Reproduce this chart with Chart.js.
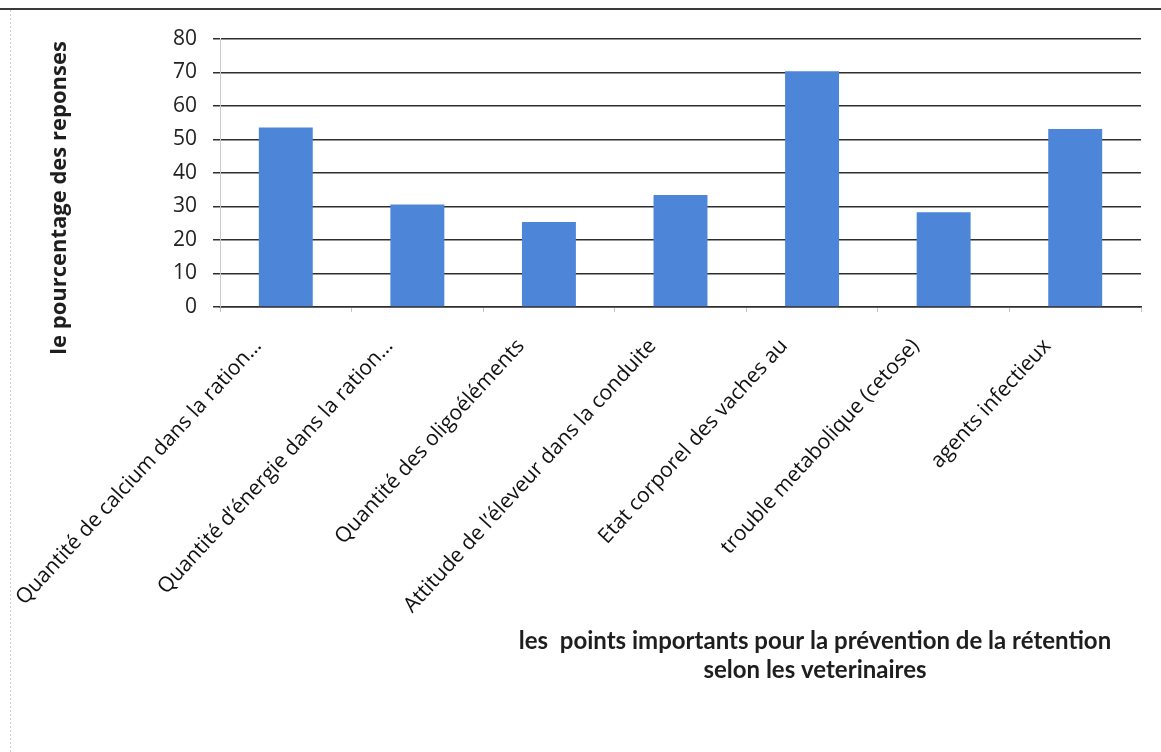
<!DOCTYPE html>
<html>
<head>
<meta charset="utf-8">
<script src="https://cdn.jsdelivr.net/npm/chart.js@4/dist/chart.umd.min.js"></script>
<style>
  html, body { margin: 0; padding: 0; background: #ffffff; }
  #wrap { width: 1161px; height: 752px; position: relative; }
</style>
</head>
<body>
<div id="wrap"><canvas id="c" width="1161" height="752"></canvas></div>
<script>
const categories = [
  'Quantité de calcium dans la ration…',
  'Quantité d’énergie dans la ration…',
  'Quantité des oligoéléments',
  'Attitude de l’éleveur dans la conduite',
  'Etat corporel des vaches au',
  'trouble metabolique (cetose)',
  'agents infectieux'
];
const values = [53.6, 30.6, 25.4, 33.4, 70.4, 28.3, 53.1];
const yTickValues = [0, 10, 20, 30, 40, 50, 60, 70, 80];
const yTitle = 'le pourcentage des reponses';
const xTitleLines = ['les  points importants pour la prévention de la rétention', 'selon les veterinaires'];

const framePlugin = {
  id: 'frame',
  beforeDraw(chart) {
    const ctx = chart.ctx;
    ctx.save();
    ctx.fillStyle = '#ffffff';
    ctx.fillRect(0, 0, chart.width, chart.height);
    ctx.strokeStyle = '#3a3a3a';
    ctx.lineWidth = 2;
    ctx.beginPath();
    ctx.moveTo(0, 9);
    ctx.lineTo(chart.width, 9);
    ctx.stroke();
    ctx.strokeStyle = '#c9c9d4';
    ctx.lineWidth = 1;
    ctx.setLineDash([2, 2]);
    ctx.beginPath();
    ctx.moveTo(10.5, 10);
    ctx.lineTo(10.5, chart.height);
    ctx.stroke();
    ctx.restore();
  },
  afterDraw(chart) {
    const ctx = chart.ctx;
    const a = chart.chartArea;
    const w = a.right - a.left;
    const h = a.bottom - a.top;
    ctx.save();
    ctx.fillStyle = '#1e1e1e';
    ctx.textAlign = 'center';
    ctx.textBaseline = 'middle';
    // x-axis title (two centred lines)
    ctx.font = 'bold 24px Lato';
    const cx = a.left + w * 0.646;
    ctx.fillText(xTitleLines[0], cx, a.bottom + 334);
    ctx.fillText(xTitleLines[1], cx, a.bottom + 363);
    // y-axis title
    ctx.translate(60, a.top + h * 0.593);
    ctx.rotate(-Math.PI / 2);
    ctx.font = 'bold 22px Open Sans';
    ctx.fillText(yTitle, 0, 0);
    ctx.restore();
  }
};

new Chart(document.getElementById('c'), {
  type: 'bar',
  data: {
    labels: categories,
    datasets: [{
      data: values,
      backgroundColor: '#4d86d8',
      borderWidth: 0,
      barPercentage: 0.41,
      categoryPercentage: 1.0
    }]
  },
  options: {
    responsive: false,
    animation: false,
    layout: { padding: { left: 47, top: 39, right: 20, bottom: 0 } },
    plugins: { legend: { display: false }, tooltip: { enabled: false } },
    scales: {
      x: {
        offset: true,
        grid: { drawOnChartArea: false, drawTicks: true, tickLength: 5, color: '#c4c4c4', offset: true },
        border: { color: '#2e2e2e', width: 1.5 },
        ticks: {
          minRotation: 47.5, maxRotation: 47.5, autoSkip: false,
          font: { family: 'Open Sans', size: 21 },
          color: '#111111',
          padding: 22,
          labelOffset: -28
        },
        afterFit(s) { s.height = 752 - 307; s.paddingLeft = 0; s.paddingRight = 0; }
      },
      y: {
        min: 0, max: 80,
        afterBuildTicks(s) { s.ticks = yTickValues.map(v => ({ value: v })); },
        ticks: { font: { family: 'Open Sans', size: 21 }, color: '#222222', padding: 16 },
        grid: { color: '#2e2e2e', lineWidth: 1.5, tickLength: 7 },
        border: { color: '#c9c9d4', width: 1 },
        afterFit(s) { s.width = 173; s.paddingTop = 0; s.paddingBottom = 0; }
      }
    }
  },
  plugins: [framePlugin]
});
</script>
</body>
</html>
